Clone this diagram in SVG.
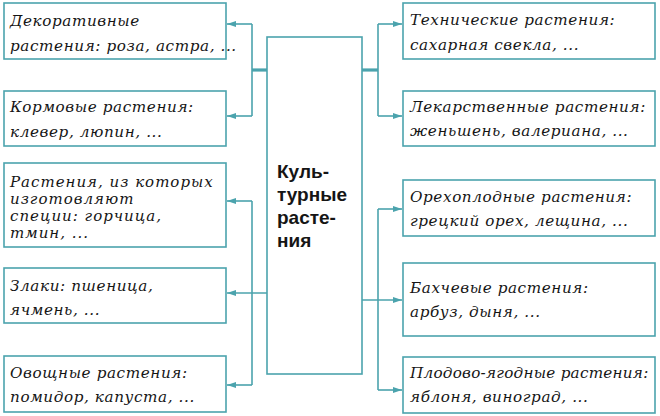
<svg xmlns="http://www.w3.org/2000/svg" width="660" height="416" viewBox="0 0 660 416">
<style>
.box{fill:#fff;stroke:#4ba3ad;stroke-width:1.6}
.t{font-family:"DejaVu Serif","Liberation Serif",serif;font-style:italic;font-size:15.2px;letter-spacing:0.6px;fill:#151515}
.s{font-size:15px;letter-spacing:1px}
.n{letter-spacing:0.25px}
.c{font-family:"Liberation Sans",Arial,sans-serif;font-weight:bold;font-size:19px;fill:#151515}
.ln{fill:none;stroke:#4ba3ad;stroke-width:1.6}
.thick{fill:none;stroke:#4ba3ad;stroke-width:3.2}
</style>
<defs>
<marker id="ah" markerUnits="userSpaceOnUse" markerWidth="10" markerHeight="8" refX="9" refY="3" orient="auto">
<path d="M0,0 L9,3 L0,6 z" fill="#4ba3ad"/>
</marker>
</defs>
<rect width="660" height="416" fill="#fff"/>
<g id="connectors">
<path class="thick" d="M267,70 H252"/>
<path class="ln" d="M252,24 V116"/>
<path class="ln" d="M252,24 H227" marker-end="url(#ah)"/>
<path class="ln" d="M252,116 H227" marker-end="url(#ah)"/>
<path class="thick" d="M362,70 H378"/>
<path class="ln" d="M378,24 V116"/>
<path class="ln" d="M378,24 H402" marker-end="url(#ah)"/>
<path class="ln" d="M378,116 H402" marker-end="url(#ah)"/>
<path class="ln" d="M252,201 V385"/>
<path class="ln" d="M252,201 H227" marker-end="url(#ah)"/>
<path class="ln" d="M267,293 H227" marker-end="url(#ah)"/>
<path class="ln" d="M252,385 H227" marker-end="url(#ah)"/>
<path class="ln" d="M378,209 V390"/>
<path class="ln" d="M378,209 H402" marker-end="url(#ah)"/>
<path class="ln" d="M362,300 H402" marker-end="url(#ah)"/>
<path class="ln" d="M378,390 H402" marker-end="url(#ah)"/>
</g>
<g id="center">
<rect class="box" x="267" y="37" width="95" height="337"/>
<text class="c" x="277" y="178">Куль-</text>
<text class="c" x="277" y="201">турные</text>
<text class="c" x="277" y="224">расте-</text>
<text class="c" x="277" y="247">ния</text>
</g>
<g id="dekor">
<rect class="box" x="4" y="3" width="222" height="56"/>
<text class="t" x="10" y="26">Декоративные</text>
<text class="t" x="10" y="51">растения: роза, астра, ...</text>
</g>
<g id="korm">
<rect class="box" x="4" y="91" width="222" height="55"/>
<text class="t" x="10" y="112">Кормовые растения:</text>
<text class="t" x="10" y="137">клевер, люпин, ...</text>
</g>
<g id="specii">
<rect class="box" x="4" y="163" width="222" height="84"/>
<text class="t s" x="10" y="187">Растения, из которых</text>
<text class="t s" x="10" y="204">изготовляют</text>
<text class="t s" x="10" y="221">специи: горчица,</text>
<text class="t s" x="10" y="238">тмин, ...</text>
</g>
<g id="zlaki">
<rect class="box" x="4" y="268" width="222" height="55"/>
<text class="t" x="10" y="291">Злаки: пшеница,</text>
<text class="t" x="10" y="315">ячмень, ...</text>
</g>
<g id="ovosch">
<rect class="box" x="4" y="356" width="222" height="56"/>
<text class="t" x="10" y="378">Овощные растения:</text>
<text class="t" x="10" y="402">помидор, капуста, ...</text>
</g>
<g id="tehn">
<rect class="box" x="403" y="3" width="252" height="56"/>
<text class="t" x="410" y="25">Технические растения:</text>
<text class="t" x="410" y="50">сахарная свекла, ...</text>
</g>
<g id="lekar">
<rect class="box" x="403" y="91" width="252" height="55"/>
<text class="t" x="410" y="112">Лекарственные растения:</text>
<text class="t" x="410" y="136">женьшень, валериана, ...</text>
</g>
<g id="oreh">
<rect class="box" x="403" y="180" width="252" height="56"/>
<text class="t" x="410" y="202">Орехоплодные растения:</text>
<text class="t" x="410" y="226">грецкий орех, лещина, ...</text>
</g>
<g id="bahch">
<rect class="box" x="403" y="263" width="252" height="73"/>
<text class="t" x="410" y="293">Бахчевые растения:</text>
<text class="t" x="410" y="317">арбуз, дыня, ...</text>
</g>
<g id="plod">
<rect class="box" x="403" y="357" width="252" height="56"/>
<text class="t n" x="410" y="378">Плодово-ягодные растения:</text>
<text class="t" x="410" y="402">яблоня, виноград, ...</text>
</g>
</svg>
